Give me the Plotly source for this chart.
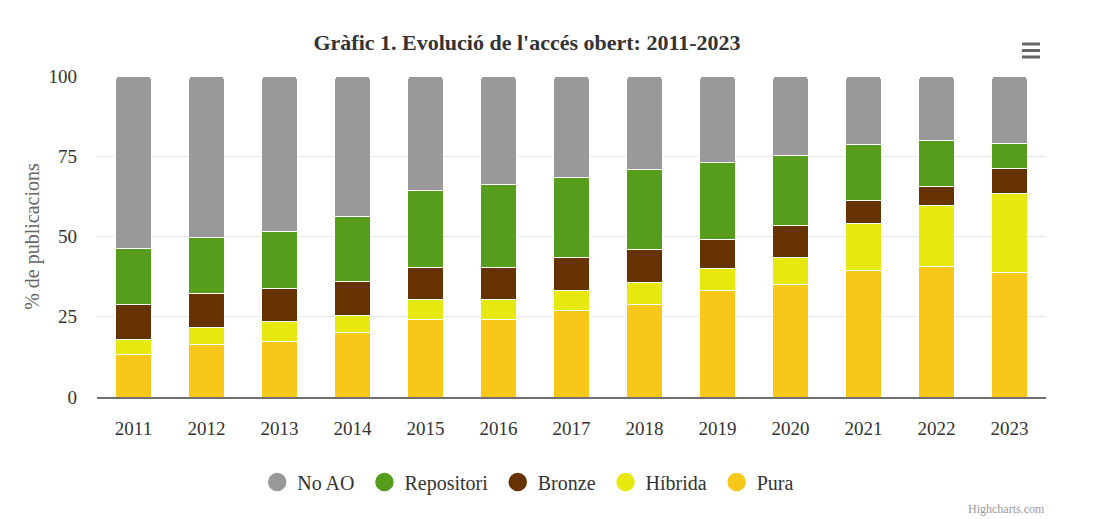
import plotly.graph_objects as go

years = ["2011", "2012", "2013", "2014", "2015", "2016", "2017",
         "2018", "2019", "2020", "2021", "2022", "2023"]

# % de publicacions per tipus d'accés
pura = [13.3, 16.3, 17.4, 20.1, 24.2, 24.2, 26.9, 28.9, 33.1, 35.0, 39.4, 40.8, 38.9]
hibrida = [4.6, 5.5, 6.0, 5.2, 6.2, 6.2, 6.2, 6.9, 7.0, 8.6, 14.7, 18.8, 24.5]
bronze = [10.9, 10.5, 10.5, 10.8, 10.1, 10.1, 10.5, 10.2, 9.0, 9.7, 7.0, 6.1, 7.8]
repositori = [17.4, 17.5, 17.8, 20.0, 23.7, 25.6, 24.9, 24.9, 24.1, 21.8, 17.6, 14.1, 7.8]
no_ao = [53.8, 50.2, 48.3, 43.9, 35.8, 33.9, 31.5, 29.1, 26.8, 24.9, 21.3, 20.2, 21.0]

series = [
    ("Pura", pura, "#f7c81a"),
    ("Híbrida", hibrida, "#e6e80f"),
    ("Bronze", bronze, "#663300"),
    ("Repositori", repositori, "#579d1c"),
    ("No AO", no_ao, "#999999"),
]

FONT = "Liberation Serif, Times New Roman, serif"

fig = go.Figure()
for name, vals, col in series:
    fig.add_trace(go.Bar(
        x=years, y=vals, name=name,
        marker=dict(color=col, line=dict(color="white", width=1)),
        showlegend=False,
        hovertemplate="%{x}<br>" + name + ": %{y}<extra></extra>",
    ))

# legend entries with round symbols, in Highcharts order
for name, vals, col in reversed(series):
    fig.add_trace(go.Scatter(
        x=[None], y=[None], mode="markers", name=name + "\u00a0",
        marker=dict(color=col, size=18, symbol="circle",
                    line=dict(color=col, width=2.5)),
    ))

# page has an 8px body margin, so the figure is 8px smaller than the window
fig.update_layout(
    width=1112, height=511,
    barmode="stack", bargap=0.52, barcornerradius=3,
    plot_bgcolor="white", paper_bgcolor="white",
    margin=dict(l=89, r=74, t=68, b=122, autoexpand=False),
    font=dict(family=FONT, size=19, color="#333333"),
    title=dict(
        text="<b>Gràfic 1. Evolució de l'accés obert: 2011-2023</b>",
        font=dict(family=FONT, size=22, color="#333333"),
        x=0.4667, xref="container", xanchor="center",
        y=0.9335, yref="container", yanchor="middle",
    ),
    legend=dict(
        orientation="h", x=0.457, xanchor="center",
        y=(397 - 482) / 321, yanchor="middle", traceorder="normal",
        font=dict(family=FONT, size=20, color="#333333"),
    ),
    xaxis=dict(
        showgrid=False, showline=True, linecolor="#707070", linewidth=2,
        ticks="", ticklabelstandoff=13, tickangle=0,
        tickfont=dict(family=FONT, size=19, color="#333333"),
    ),
    yaxis=dict(
        range=[0, 100], tickvals=[0, 25, 50, 75, 100],
        showgrid=True, gridcolor="#e6e6e6", gridwidth=1,
        zeroline=False, ticks="", ticklabelstandoff=19,
        tickfont=dict(family=FONT, size=19, color="#333333"),
        title=dict(text="% de publicacions", standoff=3,
                   font=dict(family=FONT, size=20, color="#666666")),
    ),
    annotations=[dict(
        text="Highcharts.com", xref="paper", yref="paper",
        x=(1047 - 97) / 949, y=(397 - 509) / 321,
        xanchor="right", yanchor="middle", showarrow=False,
        font=dict(family=FONT, size=12, color="#999999"),
    )],
    shapes=[
        dict(type="line", xref="paper", yref="paper",
             x0=(1022 - 97) / 949, x1=(1040 - 97) / 949,
             y0=(397 - yy) / 321, y1=(397 - yy) / 321,
             line=dict(color="#666666", width=3))
        for yy in (44, 50.5, 57)
    ],
)

fig.write_html("out.html")
